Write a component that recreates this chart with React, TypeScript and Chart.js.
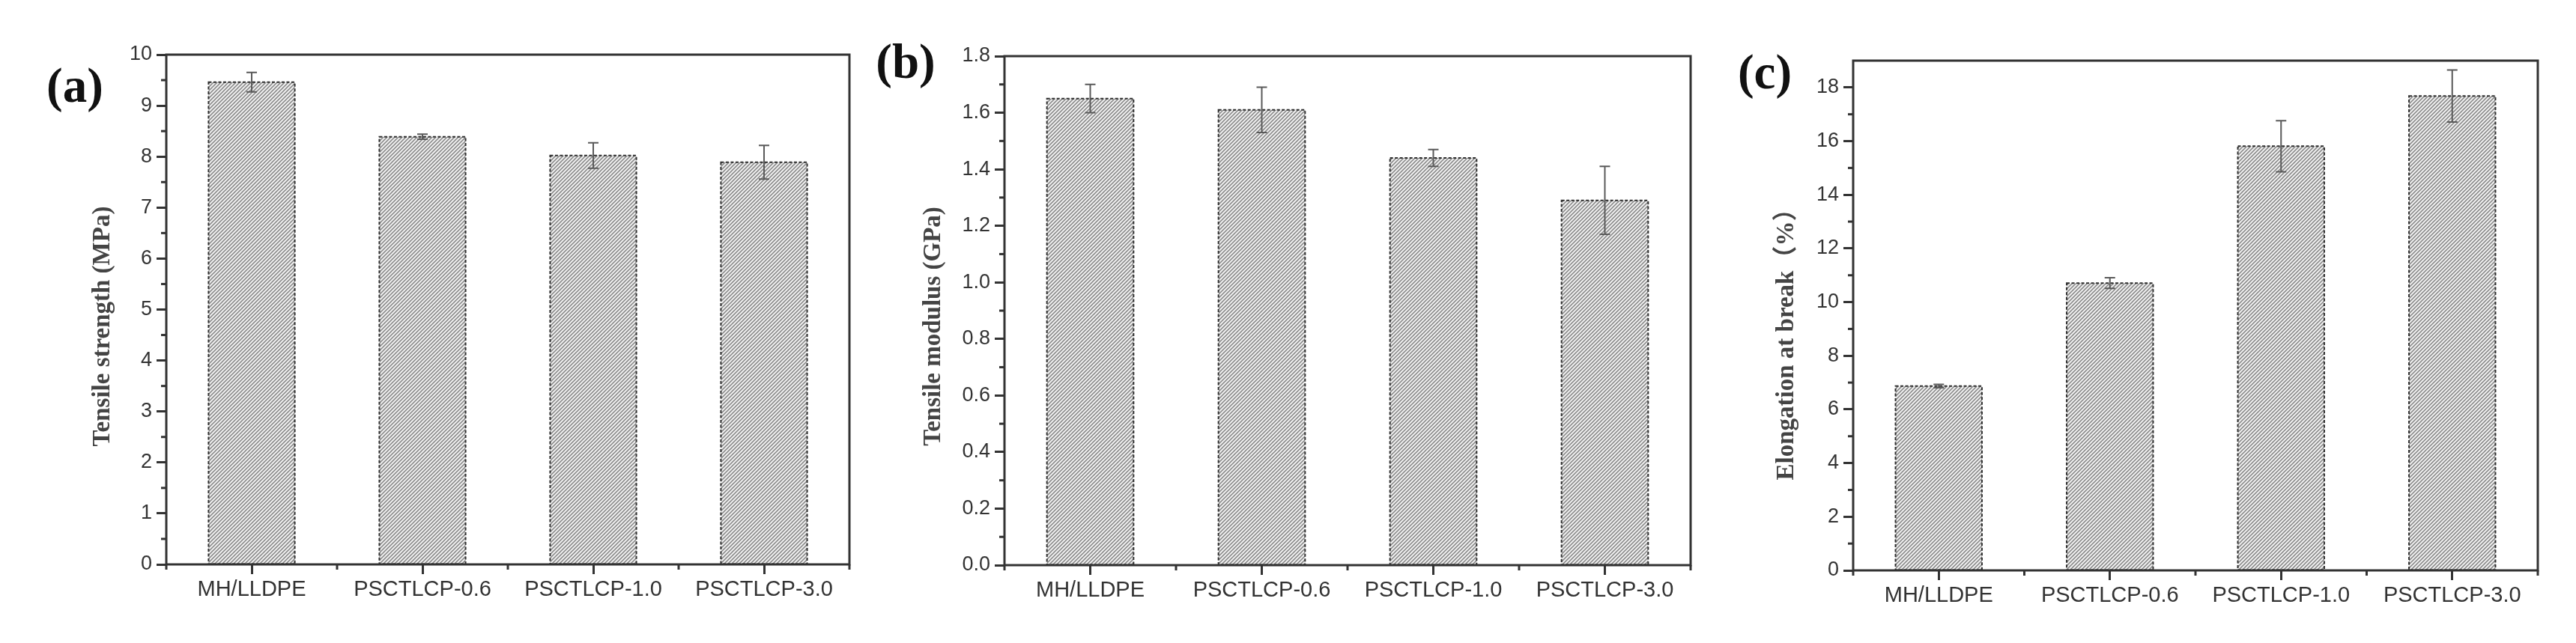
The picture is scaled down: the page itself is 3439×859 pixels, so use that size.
import React, { useEffect, useRef } from "react";
import { Chart, registerables } from "chart.js";

Chart.register(...registerables);

// ---- data ----
const categories = ["MH/LLDPE", "PSCTLCP-0.6", "PSCTLCP-1.0", "PSCTLCP-3.0"];

const tensileStrength = [9.46, 8.39, 8.02, 7.89];
const tensileStrengthErr = [0.19, 0.05, 0.25, 0.33];

const tensileModulus = [1.65, 1.61, 1.44, 1.29];
const tensileModulusErr = [0.05, 0.08, 0.03, 0.12];

const elongation = [6.87, 10.71, 15.81, 17.68];
const elongationErr = [0.06, 0.2, 0.95, 0.97];

const panelLetters = ["(a)", "(b)", "(c)"];
const axisTitles = ["Tensile strength (MPa)", "Tensile modulus (GPa)", "Elongation at break（%）"];

const INK = "#333333";

function makeHatch(): CanvasPattern | string {
  const s = 5;
  const c = document.createElement("canvas");
  c.width = s;
  c.height = s;
  const g = c.getContext("2d");
  if (!g) return "#cccccc";
  g.fillStyle = "#f0f0f0";
  g.fillRect(0, 0, s, s);
  g.strokeStyle = "#828282";
  g.lineWidth = 1.5;
  g.beginPath();
  g.moveTo(0, s);
  g.lineTo(s, 0);
  g.moveTo(-1, 1);
  g.lineTo(1, -1);
  g.moveTo(s - 1, s + 1);
  g.lineTo(s + 1, s - 1);
  g.stroke();
  const p = g.createPattern(c, "repeat");
  return p || "#cccccc";
}

type PanelProps = {
  left: number;
  width: number;
  height: number;
  area: { l: number; r: number; t: number; b: number };
  values: number[];
  errors: number[];
  yMax: number;
  step: number;
  tickMax: number;
  decimals: number;
  letter: string;
  letterX: number;
  letterY: number;
  title: string;
  titleX: number;
  titleY: number;
};

function Panel(props: PanelProps) {
  const ref = useRef<HTMLCanvasElement | null>(null);

  useEffect(() => {
    const canvas = ref.current;
    if (!canvas) return;
    const p = props;

    const decor = {
      id: "decor",
      afterDatasetsDraw(chart: any) {
        const ctx = chart.ctx;
        const meta = chart.getDatasetMeta(0);
        const yScale = chart.scales.y;
        ctx.save();
        // dotted bar outlines
        ctx.setLineDash([4, 2.5]);
        ctx.lineWidth = 2;
        ctx.strokeStyle = "#2e2e2e";
        meta.data.forEach((el: any) => {
          const { x, y, base, width } = el.getProps(["x", "y", "base", "width"], true);
          ctx.strokeRect(x - width / 2, y, width, base - y);
        });
        ctx.setLineDash([]);
        // error bars
        ctx.strokeStyle = "#5a5a5a";
        ctx.lineWidth = 2;
        meta.data.forEach((el: any, i: number) => {
          const { x } = el.getProps(["x"], true);
          const v = p.values[i];
          const e = p.errors[i];
          const yt = yScale.getPixelForValue(v + e);
          const yb = yScale.getPixelForValue(v - e);
          ctx.beginPath();
          ctx.moveTo(x, yt);
          ctx.lineTo(x, yb);
          ctx.moveTo(x - 7, yt);
          ctx.lineTo(x + 7, yt);
          ctx.moveTo(x - 7, yb);
          ctx.lineTo(x + 7, yb);
          ctx.stroke();
        });
        ctx.restore();
      },
      afterDraw(chart: any) {
        const ctx = chart.ctx;
        const a = chart.chartArea;
        const yScale = chart.scales.y;
        const xScale = chart.scales.x;
        ctx.save();
        // frame
        ctx.strokeStyle = INK;
        ctx.lineWidth = 3;
        ctx.strokeRect(a.left, a.top, a.right - a.left, a.bottom - a.top);
        // minor y ticks
        const half = p.step / 2;
        for (let i = 1; i * half < p.yMax - 1e-9; i += 2) {
          const yy = yScale.getPixelForValue(i * half);
          ctx.beginPath();
          ctx.moveTo(a.left - 7, yy);
          ctx.lineTo(a.left, yy);
          ctx.stroke();
        }
        // minor x ticks (category boundaries)
        const n = categories.length;
        for (let i = 0; i <= n; i++) {
          let xx: number;
          if (i === 0) xx = a.left;
          else if (i === n) xx = a.right;
          else xx = (xScale.getPixelForValue(i - 1) + xScale.getPixelForValue(i)) / 2;
          ctx.beginPath();
          ctx.moveTo(xx, a.bottom);
          ctx.lineTo(xx, a.bottom + 7);
          ctx.stroke();
        }
        // panel letter
        ctx.fillStyle = "#111111";
        ctx.font = "bold 65px 'Liberation Serif', 'Times New Roman', serif";
        ctx.textAlign = "center";
        ctx.textBaseline = "alphabetic";
        ctx.fillText(p.letter, p.letterX, p.letterY);
        // y axis title
        ctx.translate(p.titleX, p.titleY);
        ctx.rotate(-Math.PI / 2);
        ctx.fillStyle = "#444444";
        ctx.font = "bold 33px 'Liberation Serif', 'Times New Roman', 'Noto Sans CJK SC', serif";
        ctx.textAlign = "center";
        ctx.textBaseline = "middle";
        ctx.fillText(p.title, 0, 0);
        ctx.restore();
      },
    };

    const gridOpts = {
      display: true,
      offset: false,
      drawOnChartArea: false,
      drawTicks: true,
      tickLength: 13,
      tickWidth: 3,
      tickColor: INK,
    };

    const chart = new Chart(canvas, {
      type: "bar",
      data: {
        labels: categories,
        datasets: [
          {
            data: p.values,
            backgroundColor: makeHatch() as any,
            borderWidth: 0,
            categoryPercentage: 1,
            barPercentage: 0.505,
          },
        ],
      },
      options: {
        responsive: false,
        animation: false,
        devicePixelRatio: 1,
        layout: { padding: { left: 0, right: p.width - p.area.r, top: p.area.t, bottom: 0 } },
        plugins: {
          legend: { display: false },
          tooltip: { enabled: false },
          title: { display: false },
        },
        scales: {
          x: {
            type: "category",
            offset: true,
            grid: gridOpts as any,
            border: { display: false },
            ticks: {
              color: INK,
              font: { family: "'Liberation Sans', Arial, sans-serif", size: 29 },
              padding: 4,
              maxRotation: 0,
              autoSkip: false,
            },
            afterFit: (s: any) => {
              s.height = p.height - p.area.b;
            },
          },
          y: {
            type: "linear",
            min: 0,
            max: p.yMax,
            grid: gridOpts as any,
            border: { display: false },
            ticks: {
              stepSize: p.step,
              color: INK,
              font: { family: "'Liberation Sans', Arial, sans-serif", size: 27 },
              padding: 6,
              callback: (v: any) => Number(v).toFixed(p.decimals),
            },
            afterBuildTicks: (s: any) => {
              s.ticks = s.ticks.filter((t: any) => t.value <= p.tickMax + 1e-9);
            },
            afterFit: (s: any) => {
              s.width = p.area.l;
            },
          },
        },
      },
      plugins: [decor as any],
    });

    return () => {
      chart.destroy();
    };
  }, []);

  return (
    <canvas
      ref={ref}
      width={props.width}
      height={props.height}
      style={{
        position: "absolute",
        left: props.left,
        top: 0,
        width: props.width,
        height: props.height,
      }}
    />
  );
}

export default function App() {
  const H = 859;
  return (
    <div
      style={{
        position: "absolute",
        left: 0,
        top: 0,
        width: 3439,
        height: H,
        background: "#ffffff",
        overflow: "hidden",
      }}
    >
      <Panel
        left={0}
        width={1150}
        height={H}
        area={{ l: 222, r: 1134, t: 73, b: 754 }}
        values={tensileStrength}
        errors={tensileStrengthErr}
        yMax={10}
        step={1}
        tickMax={10}
        decimals={0}
        letter={panelLetters[0]}
        letterX={100}
        letterY={136}
        title={axisTitles[0]}
        titleX={137}
        titleY={436}
      />
      <Panel
        left={1150}
        width={1150}
        height={H}
        area={{ l: 191, r: 1107, t: 75, b: 755 }}
        values={tensileModulus}
        errors={tensileModulusErr}
        yMax={1.8}
        step={0.2}
        tickMax={1.8}
        decimals={1}
        letter={panelLetters[1]}
        letterX={59}
        letterY={104}
        title={axisTitles[1]}
        titleX={96}
        titleY={436}
      />
      <Panel
        left={2300}
        width={1139}
        height={H}
        area={{ l: 174, r: 1088, t: 81, b: 762 }}
        values={elongation}
        errors={elongationErr}
        yMax={19}
        step={2}
        tickMax={18}
        decimals={0}
        letter={panelLetters[2]}
        letterX={56}
        letterY={118}
        title={axisTitles[2]}
        titleX={85}
        titleY={452}
      />
    </div>
  );
}
